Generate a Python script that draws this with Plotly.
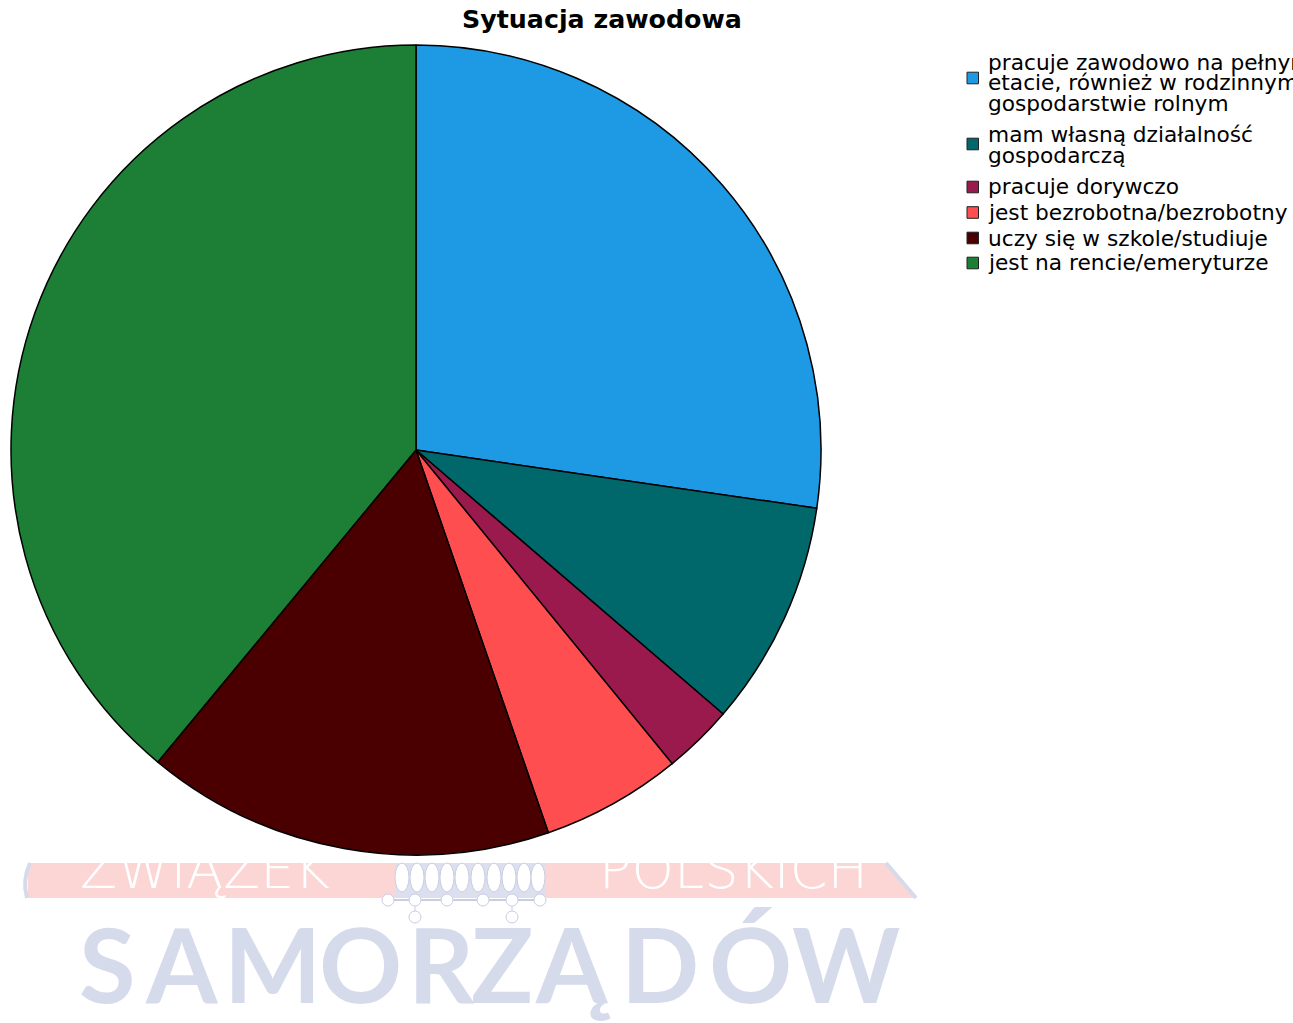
import plotly.graph_objects as go

# Employment situation of respondents (share of answers, %)
categories = [
    "pracuje zawodowo na pełnym etacie, również w rodzinnym gospodarstwie rolnym",
    "mam własną działalność gospodarczą",
    "pracuje dorywczo",
    "jest bezrobotna/bezrobotny",
    "uczy się w szkole/studiuje",
    "jest na rencie/emeryturze",
]
shares = [27.3, 9.0, 2.8, 5.6, 16.3, 39.0]
colors = ["#1E9AE5", "#00686A", "#9A1A4E", "#FF4E4F", "#4A0000", "#1C7F35"]
legend_lines = [
    ["pracuje zawodowo na pełnym", "etacie, również w rodzinnym", "gospodarstwie rolnym"],
    ["mam własną działalność", "gospodarczą"],
    ["pracuje dorywczo"],
    ["jest bezrobotna/bezrobotny"],
    ["uczy się w szkole/studiuje"],
    ["jest na rencie/emeryturze"],
]
title = "Sytuacja zawodowa"

W, H = 1293, 1023


def px(x):
    return x / W


def py(y):
    return 1 - y / H


fig = go.Figure()
fig.add_trace(go.Pie(
    labels=categories,
    values=shares,
    sort=False,
    direction="clockwise",
    rotation=0,
    textinfo="none",
    hoverinfo="label+percent",
    marker=dict(colors=colors, line=dict(color="black", width=1.5)),
    domain=dict(x=[px(11), px(821)], y=[py(855), py(45)]),
    showlegend=False,
))

annotations = []
shapes = []

# title
annotations.append(dict(
    text="<b>" + title + "</b>", x=px(601.5), y=py(20), xref="paper", yref="paper",
    xanchor="center", yanchor="middle", showarrow=False,
    font=dict(family="DejaVu Sans", size=25.3, color="black"),
))

# legend: swatch + wrapped label lines
line_y = [[62.5, 82.5, 103], [134, 156], [186], [212.5], [238], [262.5]]
swatch_y = [78, 144, 187, 212.5, 238, 263]
for lines, ys, sy, col in zip(legend_lines, line_y, swatch_y, colors):
    shapes.append(dict(
        type="rect", xref="paper", yref="paper",
        x0=px(967), x1=px(978.5), y0=py(sy + 5.8), y1=py(sy - 5.8),
        fillcolor=col, line=dict(color="#222222", width=1),
    ))
    for txt, y in zip(lines, ys):
        annotations.append(dict(
            text=txt, x=px(986), y=py(y), xref="paper", yref="paper",
            xanchor="left", yanchor="middle", showarrow=False,
            font=dict(family="DejaVu Sans", size=21.7, color="black"),
        ))

# association logo in the lower area
pink = "#FCD6D5"
lav = "#D6DBEB"
shapes.append(dict(
    type="path", xref="paper", yref="paper", layer="below",
    path=f"M {px(28)},{py(863)} L {px(888)},{py(863)} L {px(914)},{py(898)} "
         f"L {px(28)},{py(898)} Z",
    fillcolor=pink, line=dict(width=0),
))
shapes.append(dict(
    type="path", xref="paper", yref="paper", layer="below",
    path=f"M {px(886)},{py(863)} L {px(916)},{py(898)}",
    line=dict(color=lav, width=4),
))
shapes.append(dict(
    type="path", xref="paper", yref="paper", layer="below",
    path=f"M {px(30)},{py(863)} Q {px(22)},{py(880)} {px(27)},{py(898)}",
    line=dict(color=lav, width=4),
))
# crown
shapes.append(dict(
    type="rect", xref="paper", yref="paper", layer="below",
    x0=px(396), x1=px(545), y0=py(898), y1=py(863),
    fillcolor="#DCDFEE", line=dict(width=0),
))
for fx in [402, 417, 432, 447, 462, 478, 494, 509, 524, 538]:
    shapes.append(dict(
        type="circle", xref="paper", yref="paper", layer="below",
        x0=px(fx - 7), x1=px(fx + 7), y0=py(892), y1=py(863),
        fillcolor="white", line=dict(color="#C9CDE2", width=1),
    ))
shapes.append(dict(
    type="line", xref="paper", yref="paper", layer="below",
    x0=px(388), x1=px(540), y0=py(900), y1=py(900),
    line=dict(color="#C9CDE2", width=2),
))
for cx, cy in [(388, 900), (415, 900), (447, 900), (483, 900), (512, 900), (540, 900),
               (415, 917), (512, 917)]:
    shapes.append(dict(
        type="circle", xref="paper", yref="paper", layer="below",
        x0=px(cx - 6), x1=px(cx + 6), y0=py(cy + 6), y1=py(cy - 6),
        fillcolor="white", line=dict(color="#C9CDE2", width=1),
    ))
for cx in [415, 512]:
    shapes.append(dict(
        type="line", xref="paper", yref="paper", layer="below",
        x0=px(cx), x1=px(cx), y0=py(906), y1=py(911),
        line=dict(color="#C9CDE2", width=1),
    ))

for word, cx in [("ZWIĄZEK", 205), ("POLSKICH", 733)]:
    annotations.append(dict(
        text=word, x=px(cx), y=py(869), xref="paper", yref="paper",
        xanchor="center", yanchor="middle", showarrow=False,
        font=dict(family="DejaVu Sans", size=54, color="white", weight=200),
    ))

big_letters = list("SAMORZĄDÓW")
big_centers = [107, 182, 272, 360, 442, 502, 573, 660, 750, 846]
for ch, cx in zip(big_letters, big_centers):
    annotations.append(dict(
        text="<b>" + ch + "</b>", x=px(cx), y=py(963), xref="paper", yref="paper",
        xanchor="center", yanchor="middle", showarrow=False,
        font=dict(family="Lato", size=103, color=lav),
    ))

fig.update_layout(
    width=W, height=H, autosize=False,
    margin=dict(l=0, r=0, t=0, b=0),
    paper_bgcolor="white", plot_bgcolor="white",
    annotations=annotations, shapes=shapes,
)

fig.write_html("out.html")
